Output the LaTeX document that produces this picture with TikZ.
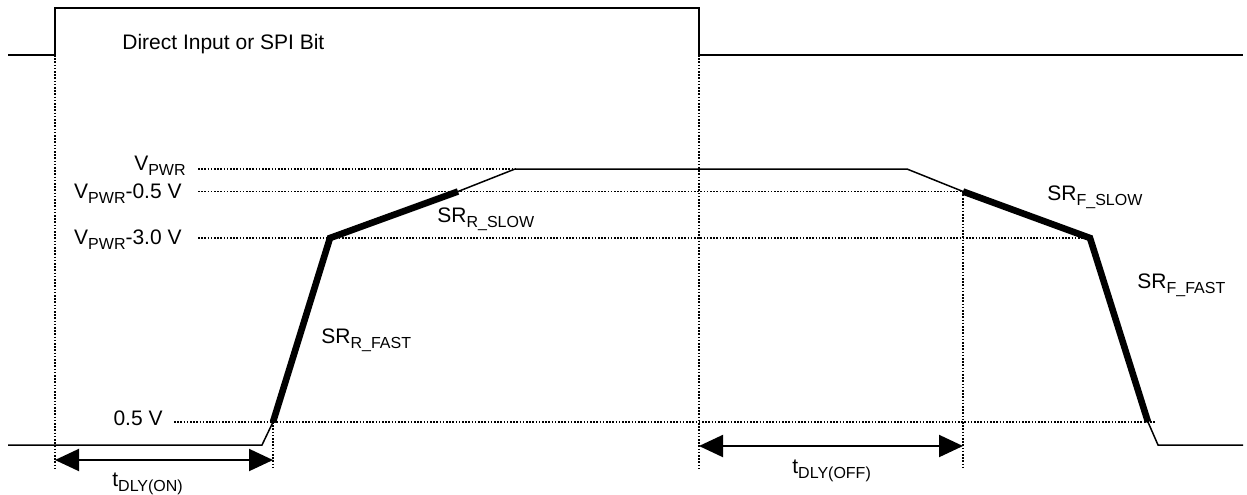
\documentclass[tikz,border=0pt]{standalone}
\usepackage{fontspec}
\setmainfont{Liberation Sans}
\usetikzlibrary{arrows.meta,positioning,calc}

\newcommand{\lowtxt}[1]{\raisebox{-2.8pt}{\fontsize{8}{9}\selectfont #1}}

\begin{document}
\begin{tikzpicture}[x=0.5pt, y=-0.5pt]
        \tikzset{
            signal/.style={draw, line width=1pt},
            trace/.style={draw, line width=0.75pt},
            slope/.style={draw, line width=3.3pt},
            guide/.style={draw, line width=0.8pt, dash pattern=on 0.8pt off 0.8pt},
            level/.style={font=\fontsize{10.5}{12}\selectfont, anchor=base east, inner sep=0pt},
            tag/.style={font=\fontsize{10.5}{12}\selectfont, anchor=base west, inner sep=0pt},
            span/.style={draw, line width=1pt, {Triangle[length=12pt,width=11pt]}-{Triangle[length=12pt,width=11pt]}}
        }
        \useasboundingbox (0,0) rectangle (1247,494);

        % Input signal
        \coordinate (in0) at (8,55);
        \coordinate (in1) at (55,55);
        \coordinate (in2) at (55,8);
        \coordinate (in3) at (699,8);
        \coordinate (in4) at (699,55);
        \coordinate (in5) at (1243,55);
        \node [tag] (input) at (122,49) {Direct Input or SPI Bit};

        % Output corners
        \coordinate (out0) at (8,445);
        \coordinate (out1) at (262,445);
        \coordinate (out2) at (273,422);
        \coordinate (out3) at (330,238);
        \coordinate (out4) at (458,191.5);
        \coordinate (out5) at (515,169);
        \coordinate (out6) at (907,169);
        \coordinate (out7) at (963,191.5);
        \coordinate (out8) at (1090,238);
        \coordinate (out9) at (1148,422);
        \coordinate (out10) at (1158,445);
        \coordinate (out11) at (1243,445);

        % Voltage levels
        \node [level] (vpwr) at (186,170) {V\lowtxt{PWR}};
        \node [level] (vhalf) at (182,198) {V\lowtxt{PWR}-0.5 V};
        \node [level] (vthree) at (182,244) {V\lowtxt{PWR}-3.0 V};
        \node [level] (vlow) at (163,425) {0.5 V};
        \draw [guide] (198,169) -- (out5);
        \draw [guide] (198,191.5) -- (out7);
        \draw [guide] (198,238) -- (out8);
        \draw [guide] (174,422) -- (1155,422);

        % Timing marks
        \coordinate (on0) at (55,468);
        \coordinate (on1) at (273,468);
        \coordinate (off0) at (699,468);
        \coordinate (off1) at (963,468);
        \draw [guide] (in1) -- (on0);
        \draw [guide] (out2) -- (on1);
        \draw [guide] (in4) -- (off0);
        \draw [guide] (out7) -- (off1);

        % Waveforms
        \draw [signal] (in0) -- (in1) -- (in2) -- (in3) -- (in4) -- (in5);
        \draw [trace] (out0) -- (out1) -- (out2);
        \draw [slope] (out2) -- (out3) -- (out4);
        \draw [trace] (out4) -- (out5) -- (out6) -- (out7);
        \draw [slope] (out7) -- (out8) -- (out9);
        \draw [trace] (out9) -- (out10) -- (out11);

        % Slew rates
        \node [tag] (srrslow) at (437,222) {SR\lowtxt{R\_SLOW}};
        \node [tag] (srrfast) at (321,343) {SR\lowtxt{R\_FAST}};
        \node [tag] (srfslow) at (1047,200) {SR\lowtxt{F\_SLOW}};
        \node [tag] (srffast) at (1137,288) {SR\lowtxt{F\_FAST}};

        % Delays
        \draw [span] (55,460) coordinate (dlyon0) -- (273,460) coordinate (dlyon1);
        \draw [span] (699,446) coordinate (dlyoff0) -- (963,446) coordinate (dlyoff1);
        \node [tag] (tdlyon) at (112,486) {t\lowtxt{DLY(ON)}};
        \node [tag] (tdlyoff) at (792,473) {t\lowtxt{DLY(OFF)}};

    \end{tikzpicture}
\end{document}
